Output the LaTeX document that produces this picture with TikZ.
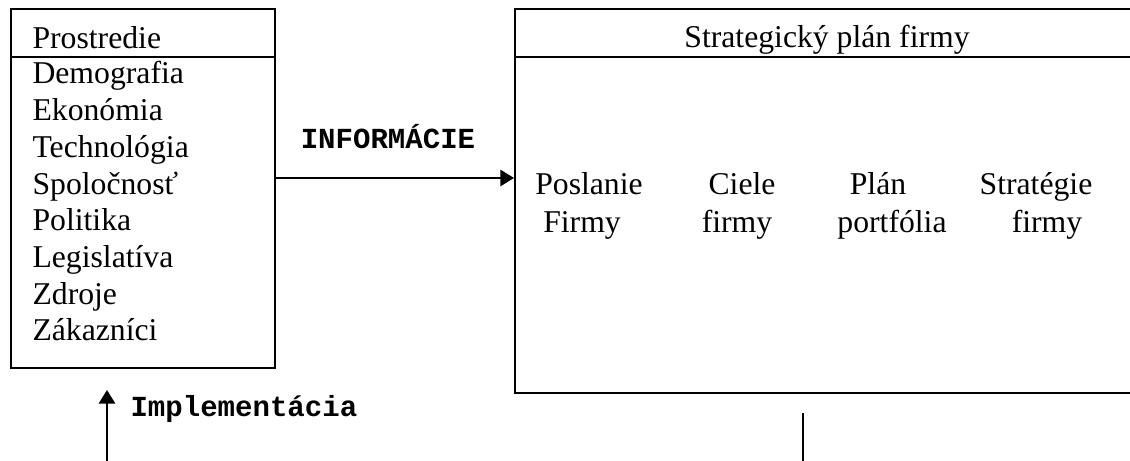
\documentclass[tikz,border=0pt]{standalone}
\usepackage{fontspec}
\setmainfont{Liberation Serif}
\setmonofont{Liberation Mono}
\usetikzlibrary{arrows.meta, fit, positioning}
\newcommand{\bodyfont}{\fontsize{12}{13.9}\selectfont}
\newcommand{\partfont}{\fontsize{12}{14.4}\selectfont}
\newcommand{\flowfont}{\fontsize{11}{13}\selectfont\ttfamily\bfseries}
\tikzstyle{panel} = [draw, line width=0.75pt, inner sep=0pt]
\tikzstyle{entry} = [font=\bodyfont, inner sep=0pt, anchor=base west]
\tikzstyle{part} = [font=\partfont, inner sep=0pt, align=center, anchor=base]
\tikzstyle{flowlabel} = [font=\flowfont, inner sep=0pt]
\tikzstyle{arrow} = [-{Triangle[length=5.2pt, width=6.2pt]}, line width=0.75pt]

\begin{document}
\begin{tikzpicture}[x=0.3785pt, y=-0.3785pt]
\path[use as bounding box, clip] (0,0) rectangle (1130,461);

% Boxes
\coordinate (envNW) at (11,9);
\coordinate (envSE) at (275,368);
\node[panel, fit=(envNW)(envSE)] (env) {};
\coordinate (planNW) at (515,9);
\coordinate (planSE) at (1139,393);
\node[panel, fit=(planNW)(planSE)] (plan) {};
\coordinate (rule) at (0,57);
\draw[line width=0.75pt] (env.west |- rule) -- (env.east |- rule);
\draw[line width=0.75pt] (plan.west |- rule) -- (plan.east |- rule);

% Headings
\node[entry] (envtitle) at (32,49) {Prostredie};
\node[entry, anchor=base] (plantitle) at (827,48) {Strategický plán firmy};

% Environment factors
\foreach \factor [count=\i from 0] in {Demografia, Ekonómia, Technológia, Spoločnosť, Politika, Legislatíva, Zdroje, Zákazníci}
  \node[entry] (factor\i) at (32, {84+36.7*\i}) {\factor};

% Parts of the plan (base = second line)
\node[part] (mission) at (589,233) {Poslanie\\Firmy\hspace*{5.3pt}};
\node[part] (goals) at (742,233) {Ciele\\firmy\hspace*{3.8pt}};
\node[part] (portfolio) at (878,233) {Plán\\\hspace*{10.6pt}portfólia};
\node[part] (strategy) at (1036,233) {Stratégie\\\hspace*{8.3pt}firmy};

% Arrows
\coordinate (infoline) at (0,178);
\draw[arrow] (env.east |- infoline) -- (plan.west |- infoline);
\node[flowlabel, anchor=base] (info) at (388,149) {INFORMÁCIE};

\coordinate (implfoot) at (107,461);
\coordinate (impltip) at (107,390);
\draw[arrow] (implfoot) -- (impltip);
\node[flowlabel, anchor=base west] (impl) at (130,417) {Implementácia};

\coordinate (planfoot) at (803,461);
\coordinate (planstub) at (803,413);
\draw[line width=0.75pt] (planstub) -- (planfoot);

\end{tikzpicture}
\end{document}
